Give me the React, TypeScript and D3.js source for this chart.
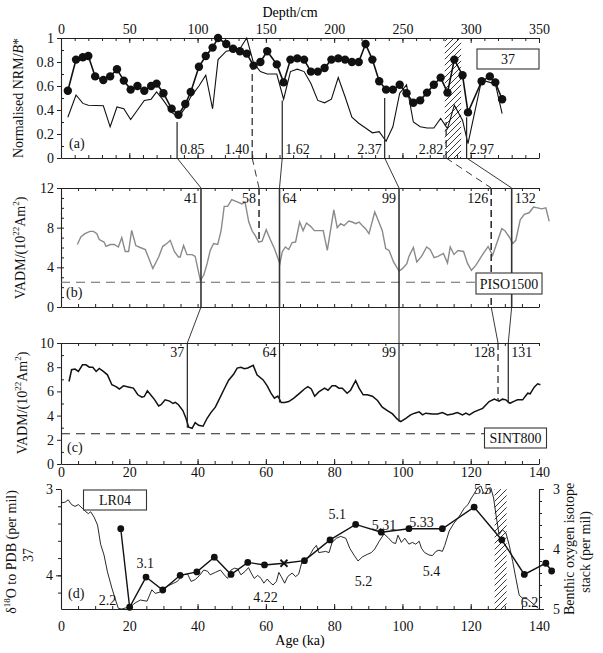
import React, { useEffect, useRef } from "react";
import * as d3 from "d3";

const serif = "Liberation Serif, DejaVu Serif, serif";

// (a) depth in cm vs normalised NRM/B*
const nrmDots: [number, number][] = [
  [5, 0.56], [11, 0.82], [16, 0.84], [20, 0.85], [25, 0.68], [31, 0.65], [36, 0.68], [41, 0.74],
  [46, 0.645], [51, 0.57], [56, 0.6], [61, 0.56], [66, 0.6], [70, 0.62], [75, 0.54], [81, 0.41],
  [86, 0.36], [91, 0.45], [95, 0.55], [101, 0.76], [106, 0.85], [111, 0.92], [115, 1.0], [121, 0.95],
  [126, 0.91], [131, 0.89], [136, 0.87], [141, 0.77], [146, 0.8], [151, 0.89], [158, 0.78], [163, 0.63],
  [168, 0.82], [173, 0.83], [178, 0.82], [183, 0.72], [188, 0.72], [193, 0.75], [198, 0.82], [203, 0.83],
  [208, 0.82], [213, 0.8], [218, 0.8], [223, 0.95], [228, 0.82], [233, 0.64], [238, 0.57], [243, 0.57],
  [248, 0.61], [253, 0.54], [258, 0.46], [263, 0.48], [268, 0.545], [273, 0.61], [278, 0.67], [283, 0.545],
  [288, 0.82], [294, 0.69], [298, 0.38], [308, 0.64], [314, 0.68], [318, 0.63], [323, 0.49],
];
const nrmThin: [number, number][] = [
  [5, 0.34], [11, 0.525], [16, 0.455], [20, 0.44], [31, 0.435], [36, 0.26], [41, 0.425], [46, 0.41],
  [51, 0.32], [56, 0.4], [61, 0.48], [66, 0.49], [70, 0.55], [75, 0.48], [81, 0.38], [86, 0.34],
  [91, 0.42], [95, 0.51], [101, 0.6], [106, 0.69], [111, 0.41], [115, 0.82], [121, 0.89], [126, 0.9],
  [131, 0.91], [136, 1.0], [141, 0.79], [146, 0.72], [151, 0.7], [158, 0.7], [163, 0.49], [168, 0.72],
  [173, 0.74], [178, 0.72], [183, 0.62], [188, 0.48], [193, 0.46], [198, 0.49], [203, 0.67], [208, 0.51],
  [213, 0.34], [218, 0.29], [223, 0.25], [228, 0.21], [233, 0.22], [238, 0.14], [243, 0.26], [248, 0.54],
  [253, 0.61], [258, 0.3], [263, 0.26], [268, 0.25], [273, 0.25], [278, 0.33], [283, 0.245], [288, 0.44],
  [294, 0.315], [298, 0.12], [308, 0.65], [314, 0.63], [318, 0.62], [323, 0.37],
];

// (b) PISO1500 VADM
const piso: [number, number][] = [
  [4.8, 6.3], [5.8, 7.06], [7, 7.4], [8.5, 7.63], [9.5, 7.63], [10.5, 7.4], [11.2, 6.8], [12.6, 6.55],
  [13.2, 6.12], [14.4, 6.3], [15.6, 6.3], [16.8, 6.05], [17.8, 7.0], [18.8, 5.6], [19.8, 5.6], [20.7, 7.73],
  [21.9, 6.2], [23.2, 6.0], [24.7, 5.8], [26.9, 3.87], [28.6, 5.04], [29.8, 6.12], [31, 6.4], [32, 6.72],
  [33.2, 5.6], [34.4, 5.04], [34.9, 5.04], [35.9, 6.2], [36.9, 5.28], [38.4, 5.28], [39.3, 5.1], [40.8, 2.69],
  [41.8, 3.2], [42.8, 4.37], [43.7, 5.7], [44.7, 6.4], [45.9, 6.3], [46.9, 7.73], [47.8, 10.15], [48.8, 10.15],
  [50, 10.83], [51.6, 10.6], [53, 10.4], [53.9, 10.6], [55, 8.57], [56, 7.66], [56.9, 7.2], [57.9, 6.55],
  [58.9, 6.65], [60.1, 7.8], [61.3, 6.8], [62.5, 5.9], [64.1, 4.37], [64.8, 5.55], [65.7, 6.05], [66.7, 5.8],
  [67.7, 6.5], [68.7, 6.55], [69.9, 8.57], [70.9, 7.7], [71.9, 8.47], [73.1, 8.13], [74.2, 7.7], [75.5, 7.7],
  [76.8, 7.7], [78, 5.7], [79.9, 9.8], [80.9, 8.0], [81.9, 8.4], [82.9, 8.2], [84.3, 8.67], [85.3, 8.57],
  [86.3, 8.4], [87.3, 8.57], [88.3, 8.2], [89.2, 7.9], [90.2, 7.4], [91.9, 9.58], [93.1, 8.57], [94.1, 7.7],
  [95.1, 5.9], [96.1, 5.7], [97.4, 4.54], [99, 3.63], [100, 3.87], [101.3, 4.37], [101.9, 5.1], [103.2, 6.0],
  [104.2, 4.54], [105.6, 5.1], [107.1, 6.05], [108.1, 5.8], [109.3, 4.98], [110.4, 5.1], [112, 5.4], [113.2, 4.44],
  [114, 6.05], [115.1, 5.3], [116.3, 5.7], [117.9, 5.6], [119.1, 4.37], [120.2, 3.7], [121.5, 4.2], [123, 5.04],
  [124.1, 5.6], [125.1, 6.1], [126.4, 5.2], [127.4, 6.2], [129.1, 7.9], [130, 7.7], [131.3, 7.06], [132.3, 6.4],
  [133.2, 6.72], [134.5, 8.8], [135.7, 9.35], [137.1, 9.5], [138.4, 10.08], [139.6, 10.0], [140.8, 9.9], [142, 10.0],
  [143, 8.64],
];

// (c) SINT800 VADM
const sint: [number, number][] = [
  [2.35, 6.82], [3.1, 7.79], [4.1, 7.85], [5.1, 7.65], [6.3, 8.2], [7.3, 8.2], [8.3, 8.0], [9.3, 8.0],
  [10.3, 7.65], [11.2, 7.9], [12.4, 7.65], [13.6, 7.37], [14.9, 6.55], [16.1, 6.4], [17.1, 6.2], [18.3, 6.46],
  [20, 6.35], [21.2, 6.27], [22.5, 5.72], [23.7, 5.52], [24.4, 5.58], [25.3, 6.05], [26.6, 5.6], [27.3, 5.36],
  [28.6, 4.8], [29.3, 4.9], [30.5, 5.3], [31.8, 5.2], [32.8, 5.0], [33.5, 5.1], [34.4, 4.9], [35.7, 4.42],
  [36.6, 3.78], [37.4, 3.04], [38.4, 2.95], [39.3, 3.42], [40.3, 3.2], [41.6, 3.12], [42.8, 3.78], [43.9, 4.25],
  [45.2, 4.7], [46.5, 5.44], [47.8, 6.2], [49.1, 6.92], [50.6, 7.43], [51.6, 7.93], [52.7, 8.0], [53.7, 7.87],
  [54.7, 7.93], [56.3, 8.15], [57.4, 7.37], [59.2, 6.95], [60.4, 6.46], [61.5, 5.85], [62.5, 5.44], [63.5, 5.62],
  [64.5, 5.08], [65.5, 5.08], [66.7, 5.16], [68.2, 5.44], [70.1, 5.9], [71.3, 6.2], [72.3, 6.4], [73.3, 6.2],
  [74.3, 5.6], [75.5, 5.96], [77.2, 6.27], [78.2, 6.1], [79.4, 6.46], [80.4, 6.46], [81.4, 6.27], [82.4, 6.27],
  [83.8, 5.85], [84.8, 6.1], [86.3, 6.88], [87.3, 6.27], [88.5, 5.72], [89.7, 5.72], [91.2, 5.6], [92.7, 5.25],
  [94.1, 4.7], [95.6, 4.42], [97.1, 4.14], [98.5, 3.7], [99.5, 3.5], [101, 3.78], [102.4, 4.06], [103.6, 4.2],
  [104.9, 4.31], [105.9, 4.06], [106.8, 4.2], [108.8, 4.14], [110.3, 4.14], [111.7, 4.25], [113.2, 4.06], [114.7, 4.14],
  [116.1, 4.25], [117.6, 4.06], [118.6, 4.2], [119.6, 4.06], [121, 4.31], [123.5, 4.6], [125.4, 5.16], [126.9, 5.36],
  [128.3, 5.2], [129.3, 5.36], [130.3, 5.3], [131.5, 5.02], [132.8, 5.2], [133.7, 5.3], [135.2, 5.3], [136.7, 5.85],
  [137.4, 5.8], [138.6, 6.35], [139.6, 6.63], [140.4, 6.55],
];

// (d) core 37 d18O (left axis) and LR04 stack (right axis)
const d18O37: [number, number][] = [
  [17.5, 3.46], [20.1, 4.37], [24.9, 4.02], [29.8, 4.17], [34.9, 4.0], [39.8, 3.96], [44.9, 3.79], [49.8, 3.99],
  [54.7, 3.85], [59.6, 3.88], [65.3, 3.86], [71.3, 3.83], [78.8, 3.59], [86.3, 3.41], [93.8, 3.5], [101.9, 3.46],
  [111.7, 3.46], [121, 3.21], [129.1, 3.59], [135.7, 3.99], [142, 3.86], [143.7, 3.95],
];
const crossAge = 65.3;
const lr04: [number, number][] = [
  [0, 3.23], [1.2, 3.22], [2.1, 3.18], [3.1, 3.26], [4.1, 3.29], [5.1, 3.26], [6.4, 3.33], [7.3, 3.38],
  [8, 3.41], [8.7, 3.38], [9.7, 3.47], [10.7, 3.6], [11.6, 3.92], [12.6, 4.1], [13.6, 4.38], [14.9, 4.65],
  [15.8, 4.82], [16.8, 4.99], [17.8, 5.0], [19.1, 4.98], [20.4, 4.96], [21.7, 4.9], [23.2, 4.85], [25.2, 4.87],
  [26.6, 4.68], [27.6, 4.74], [28.9, 4.72], [30.2, 4.65], [31.5, 4.61], [33, 4.57], [34.1, 4.54], [35.7, 4.43],
  [37.1, 4.42], [38.1, 4.54], [39.3, 4.51], [40.6, 4.44], [41.8, 4.35], [42.9, 4.37], [43.7, 4.43], [45.2, 4.39],
  [46.7, 4.35], [47.8, 4.43], [48.8, 4.49], [49.8, 4.35], [50.8, 4.32], [51.7, 4.33], [52.7, 4.43], [54, 4.37],
  [54.9, 4.31], [55.7, 4.4], [56.6, 4.49], [57.6, 4.44], [58.6, 4.49], [59.4, 4.57], [60.4, 4.5], [61.1, 4.55],
  [62.1, 4.6], [63.1, 4.54], [63.8, 4.39], [64.5, 4.46], [65.5, 4.57], [66.4, 4.46], [67.7, 4.4], [68.7, 4.46],
  [69.6, 4.42], [70.6, 4.21], [71.6, 4.17], [72.9, 4.1], [73.9, 4.0], [74.8, 3.94], [75.5, 4.06], [77.5, 4.04],
  [78.5, 4.06], [79.4, 3.89], [80.7, 3.82], [81.9, 3.79], [83.4, 3.82], [84.6, 3.99], [85.8, 4.1], [87, 4.2],
  [88.3, 4.13], [89.7, 4.09], [90.9, 4.06], [91.9, 4.0], [93.1, 3.88], [94.6, 3.75], [95.8, 3.81], [97.1, 3.89],
  [98, 3.91], [98.7, 3.77], [99.7, 3.89], [100.7, 3.82], [101.9, 3.92], [102.9, 3.89], [103.9, 3.92], [104.9, 3.87],
  [105.6, 3.99], [106.5, 4.06], [107.8, 4.1], [108.8, 4.11], [109.8, 4.04], [110.7, 4.02], [111.7, 4.04], [112.4, 3.94],
  [113.7, 3.7], [115.1, 3.57], [116.6, 3.46], [118.1, 3.32], [119.2, 3.26], [120.2, 3.15], [121, 3.08], [122, 2.98],
  [123, 2.95], [123.7, 3.06], [124.4, 3.08], [125.1, 2.99], [125.9, 2.98], [126.7, 3.15], [127.4, 3.43], [128.3, 3.76],
  [129.3, 3.68], [130.3, 3.73], [131.3, 3.94], [132.3, 4.21], [133.2, 4.48], [134.2, 4.77], [135.2, 4.82], [136.5, 4.83],
  [137.6, 4.88], [138.6, 4.93], [139.8, 4.99],
];
const stageLabels = ["2.2", "3.1", "4.22", "5.1", "5.2", "5.31", "5.33", "5.4", "5.5", "6.2"];
const stageAt: [number, number][] = [
  [13.6, 4.93], [24.7, 4.31], [59.9, 4.88], [80.9, 3.5], [88.6, 4.62], [94.6, 3.68], [105.6, 3.63], [108.5, 4.45],
  [123.5, 3.08], [137.2, 4.97],
];

// tie points: depth (m) -> PISO1500 age -> SINT800 age
const depthTies = [0.85, 1.4, 1.62, 2.37, 2.82, 2.97];
const depthTieTop = [0.3, 0.76, 0.48, 0.5, 0.3, 0.34];
const pisoTies = [41, 58, 64, 99, 126, 132];
const pisoTieLow = [0, 6.55, 0, 0, 0, 0];
const sintTies = [37, 64, 99, 128, 131];
const sintTieLow = [3.0, 5.08, 3.5, 5.2, 5.02];
const pisoToSint = [
  [41, 37], [64, 64], [99, 99], [126, 128], [132, 131],
];
const hatchDepth = [281, 293];
const hatchAge = [127, 130.5];

const left = 61;
const right = 539;

const App = () => {
  const ref = useRef<SVGSVGElement>(null);
  useEffect(() => {
    const svg = d3.select(ref.current);
    svg.selectAll("*").remove();

    const xDepth = d3.scaleLinear().domain([0, 350]).range([left, right]);
    const xAge = d3.scaleLinear().domain([0, 140]).range([left, right]);
    const yA = d3.scaleLinear().domain([0, 1]).range([158, 38]);
    const yB = d3.scaleLinear().domain([0, 12]).range([307, 188]);
    const yC = d3.scaleLinear().domain([0, 10]).range([464, 343]);
    const yDL = d3.scaleLinear().domain([3, 4.39]).range([489, 609]);
    const yDR = d3.scaleLinear().domain([3, 5]).range([489, 609]);

    const defs = svg.append("defs");
    const pat = defs
      .append("pattern")
      .attr("id", "hatch")
      .attr("patternUnits", "userSpaceOnUse")
      .attr("width", 6)
      .attr("height", 6);
    pat
      .append("path")
      .attr("d", "M0,6 L6,0 M-1,1 L1,-1 M5,7 L7,5")
      .attr("stroke", "#222")
      .attr("stroke-width", 0.9);

    const addAxis = (transform: string, axis: any, keepDomain = true) => {
      const g = svg.append("g").attr("transform", transform).call(axis);
      g.attr("font-family", serif).attr("font-size", 14);
      g.select(".domain").attr("stroke", "#222").attr("stroke-width", 1.1);
      if (!keepDomain) g.select(".domain").remove();
      g.selectAll(".tick line").attr("stroke", "#222");
      g.selectAll(".tick text").attr("fill", "#111").style("font-family", serif);
      return g;
    };
    const none = () => "";
    const fmt = d3.format("~g");

    // hatched intervals
    svg
      .append("rect")
      .attr("x", xDepth(hatchDepth[0]))
      .attr("y", yA(1))
      .attr("width", xDepth(hatchDepth[1]) - xDepth(hatchDepth[0]))
      .attr("height", yA(0) - yA(1))
      .attr("fill", "url(#hatch)");
    svg
      .append("rect")
      .attr("x", xAge(hatchAge[0]))
      .attr("y", yDR(3))
      .attr("width", xAge(hatchAge[1]) - xAge(hatchAge[0]))
      .attr("height", yDR(5) - yDR(3))
      .attr("fill", "url(#hatch)");

    // ---- axes (a)
    addAxis(`translate(0,${yA(1)})`, d3.axisTop(xDepth).tickValues(d3.range(0, 351, 50)).tickSize(-5).tickSizeOuter(0).tickPadding(4));
    addAxis(`translate(0,${yA(1)})`, d3.axisTop(xDepth).tickValues(d3.range(0, 351, 10)).tickSize(-3).tickFormat(none), false);
    addAxis(`translate(0,${yA(0)})`, d3.axisBottom(xDepth).tickValues(d3.range(0, 351, 50)).tickSize(-5).tickSizeOuter(0).tickFormat(none));
    addAxis(`translate(0,${yA(0)})`, d3.axisBottom(xDepth).tickValues(d3.range(0, 351, 10)).tickSize(-3).tickFormat(none), false);
    addAxis(`translate(${left},0)`, d3.axisLeft(yA).tickValues([0, 0.2, 0.4, 0.6, 0.8, 1]).tickSize(4).tickSizeOuter(0).tickPadding(3).tickFormat(fmt));
    addAxis(`translate(${left},0)`, d3.axisLeft(yA).tickValues(d3.range(0.1, 1, 0.2)).tickSize(-3).tickFormat(none), false);

    // ---- axes (b)
    addAxis(`translate(0,${yB(12)})`, d3.axisTop(xAge).tickValues(d3.range(0, 141, 5)).tickSize(-3).tickSizeOuter(0).tickFormat(none));
    addAxis(`translate(0,${yB(0)})`, d3.axisBottom(xAge).tickValues(d3.range(0, 141, 5)).tickSize(-3).tickSizeOuter(0).tickFormat(none));
    addAxis(`translate(${left},0)`, d3.axisLeft(yB).tickValues([0, 4, 8, 12]).tickSize(4).tickSizeOuter(0).tickPadding(3).tickFormat(fmt));
    addAxis(`translate(${left},0)`, d3.axisLeft(yB).tickValues(d3.range(1, 12, 1)).tickSize(-3).tickFormat(none), false);

    // ---- axes (c)
    addAxis(`translate(0,${yC(10)})`, d3.axisTop(xAge).tickValues(d3.range(0, 141, 5)).tickSize(-3).tickSizeOuter(0).tickFormat(none));
    addAxis(`translate(0,${yC(0)})`, d3.axisBottom(xAge).tickValues(d3.range(0, 141, 20)).tickSize(-5).tickSizeOuter(0).tickPadding(3).tickFormat(fmt));
    addAxis(`translate(0,${yC(0)})`, d3.axisBottom(xAge).tickValues(d3.range(0, 141, 5)).tickSize(-3).tickFormat(none), false);
    addAxis(`translate(${left},0)`, d3.axisLeft(yC).tickValues(d3.range(0, 11, 2)).tickSize(4).tickSizeOuter(0).tickPadding(3).tickFormat(fmt));
    addAxis(`translate(${left},0)`, d3.axisLeft(yC).tickValues(d3.range(1, 10, 2)).tickSize(-3).tickFormat(none), false);

    // ---- axes (d)
    addAxis(`translate(0,${yDR(5)})`, d3.axisBottom(xAge).tickValues(d3.range(0, 141, 20)).tickSize(-5).tickSizeOuter(0).tickPadding(12).tickFormat(fmt));
    addAxis(`translate(0,${yDR(5)})`, d3.axisBottom(xAge).tickValues(d3.range(0, 141, 5)).tickSize(-3).tickFormat(none), false);
    addAxis(`translate(${left},0)`, d3.axisLeft(yDL).tickValues([3, 4]).tickSize(5).tickSizeOuter(0).tickPadding(3).tickFormat(fmt));
    addAxis(`translate(${left},0)`, d3.axisLeft(yDL).tickValues(d3.range(3.2, 4.39, 0.2)).tickSize(3).tickFormat(none), false);
    addAxis(`translate(${right},0)`, d3.axisRight(yDR).tickValues([3, 4, 5]).tickSize(5).tickSizeOuter(0).tickPadding(9).tickFormat(fmt));
    addAxis(`translate(${right},0)`, d3.axisRight(yDR).tickValues(d3.range(3.2, 4.99, 0.2)).tickSize(3).tickFormat(none), false);

    // ---- reference dashed lines at 2.5
    svg
      .append("line")
      .attr("x1", left)
      .attr("x2", 475)
      .attr("y1", yB(2.5))
      .attr("y2", yB(2.5))
      .attr("stroke", "#666")
      .attr("stroke-width", 1.1)
      .attr("stroke-dasharray", "9,6");
    svg
      .append("line")
      .attr("x1", left)
      .attr("x2", 484)
      .attr("y1", yC(2.5))
      .attr("y2", yC(2.5))
      .attr("stroke", "#222")
      .attr("stroke-width", 1.1)
      .attr("stroke-dasharray", "9,6");

    // ---- curves
    const lineA = d3.line<[number, number]>().x((d) => xDepth(d[0])).y((d) => yA(d[1]));
    svg.append("path").attr("d", lineA(nrmThin)).attr("fill", "none").attr("stroke", "#111").attr("stroke-width", 1.1);
    svg.append("path").attr("d", lineA(nrmDots)).attr("fill", "none").attr("stroke", "#111").attr("stroke-width", 1.6);
    svg
      .selectAll("circle.nrm")
      .data(nrmDots)
      .enter()
      .append("circle")
      .attr("class", "nrm")
      .attr("cx", (d) => xDepth(d[0]))
      .attr("cy", (d) => yA(d[1]))
      .attr("r", 4.2)
      .attr("fill", "#111");

    const lineB = d3.line<[number, number]>().x((d) => xAge(d[0])).y((d) => yB(d[1]));
    svg.append("path").attr("d", lineB(piso)).attr("fill", "none").attr("stroke", "#8a8a8a").attr("stroke-width", 1.4);

    const lineC = d3.line<[number, number]>().x((d) => xAge(d[0])).y((d) => yC(d[1]));
    svg.append("path").attr("d", lineC(sint)).attr("fill", "none").attr("stroke", "#111").attr("stroke-width", 1.5);

    const lineDR = d3.line<[number, number]>().x((d) => xAge(d[0])).y((d) => yDR(d[1]));
    svg.append("path").attr("d", lineDR(lr04)).attr("fill", "none").attr("stroke", "#111").attr("stroke-width", 0.9);
    const lineDL = d3.line<[number, number]>().x((d) => xAge(d[0])).y((d) => yDL(d[1]));
    svg.append("path").attr("d", lineDL(d18O37)).attr("fill", "none").attr("stroke", "#111").attr("stroke-width", 1.4);
    svg
      .selectAll("circle.iso")
      .data(d18O37.filter((d) => d[0] !== crossAge))
      .enter()
      .append("circle")
      .attr("class", "iso")
      .attr("cx", (d) => xAge(d[0]))
      .attr("cy", (d) => yDL(d[1]))
      .attr("r", 3.4)
      .attr("fill", "#111");
    d18O37
      .filter((d) => d[0] === crossAge)
      .forEach((d) => {
        const cx = xAge(d[0]);
        const cy = yDL(d[1]);
        svg
          .append("path")
          .attr("d", `M${cx - 3.5},${cy - 3.5}L${cx + 3.5},${cy + 3.5}M${cx - 3.5},${cy + 3.5}L${cx + 3.5},${cy - 3.5}`)
          .attr("stroke", "#111")
          .attr("stroke-width", 1.8);
      });

    // ---- tie lines
    const dashedA = [1, 4];
    const tieLabel = (x: number, y: number, text: string, rightSide: boolean) =>
      svg
        .append("text")
        .attr("x", rightSide ? x + 3 : x - 3)
        .attr("y", y)
        .attr("text-anchor", rightSide ? "start" : "end")
        .attr("font-size", 14)
        .attr("fill", "#111")
        .text(text);

    depthTies.forEach((m, i) => {
      const x = xDepth(m * 100);
      svg
        .append("line")
        .attr("x1", x)
        .attr("x2", x)
        .attr("y1", yA(0))
        .attr("y2", yA(depthTieTop[i]))
        .attr("stroke", "#222")
        .attr("stroke-width", 1.2)
        .attr("stroke-dasharray", dashedA.includes(i) ? "7,4" : null);
      tieLabel(x, 154, m.toFixed(2), [0, 2, 5].includes(i));
      svg
        .append("line")
        .attr("x1", x)
        .attr("y1", yA(0))
        .attr("x2", xAge(pisoTies[i]))
        .attr("y2", yB(12))
        .attr("stroke", "#222")
        .attr("stroke-width", 0.9)
        .attr("stroke-dasharray", dashedA.includes(i) ? "7,5" : null);
    });

    pisoTies.forEach((a, i) => {
      const x = xAge(a);
      svg
        .append("line")
        .attr("x1", x)
        .attr("x2", x)
        .attr("y1", yB(12))
        .attr("y2", yB(pisoTieLow[i]))
        .attr("stroke", "#333")
        .attr("stroke-width", 1.6)
        .attr("stroke-dasharray", dashedA.includes(i) ? "7,4" : null);
      tieLabel(x, 203, String(a), [2, 5].includes(i));
    });

    sintTies.forEach((a, i) => {
      const x = xAge(a);
      svg
        .append("line")
        .attr("x1", x)
        .attr("x2", x)
        .attr("y1", yC(10))
        .attr("y2", yC(sintTieLow[i]))
        .attr("stroke", "#222")
        .attr("stroke-width", 1.2)
        .attr("stroke-dasharray", i === 3 ? "7,4" : null);
      tieLabel(x, 357, String(a), i === 4);
    });

    pisoToSint.forEach(([p, s]) => {
      svg
        .append("line")
        .attr("x1", xAge(p))
        .attr("y1", yB(0))
        .attr("x2", xAge(s))
        .attr("y2", yC(10))
        .attr("stroke", "#222")
        .attr("stroke-width", 0.9);
    });

    // ---- stage labels (d)
    stageLabels.forEach((t, i) => {
      svg
        .append("text")
        .attr("x", xAge(stageAt[i][0]))
        .attr("y", yDR(stageAt[i][1]))
        .attr("text-anchor", "middle")
        .attr("font-size", 14)
        .attr("fill", "#111")
        .text(t);
    });

    // ---- boxed legends
    const box = (x: number, y: number, w: number, h: number, text: string) => {
      svg
        .append("rect")
        .attr("x", x)
        .attr("y", y)
        .attr("width", w)
        .attr("height", h)
        .attr("fill", "#fff")
        .attr("stroke", "#333")
        .attr("stroke-width", 1.1);
      svg
        .append("text")
        .attr("x", x + w / 2)
        .attr("y", y + h / 2 + 5)
        .attr("text-anchor", "middle")
        .attr("font-size", 14)
        .attr("fill", "#111")
        .text(text);
    };
    box(477, 49, 62, 20, "37");
    box(476, 273, 66, 21, "PISO1500");
    box(484.5, 428, 62, 20, "SINT800");
    box(83.5, 490, 63, 20, "LR04");

    // ---- panel letters
    [["(a)", 69, 148], ["(b)", 66, 297], ["(c)", 67, 452], ["(d)", 68, 598]].forEach(([t, x, y]) => {
      svg.append("text").attr("x", x).attr("y", y).attr("font-size", 14).attr("fill", "#111").text(t as string);
    });

    // ---- axis titles
    svg.append("text").attr("x", 290).attr("y", 17).attr("text-anchor", "middle").attr("font-size", 14).text("Depth/cm");
    svg.append("text").attr("x", 300).attr("y", 645).attr("text-anchor", "middle").attr("font-size", 14).text("Age (ka)");

    const vTitle = (x: number, y: number, parts: [string, string][]) => {
      const t = svg
        .append("text")
        .attr("transform", `translate(${x},${y}) rotate(-90)`)
        .attr("text-anchor", "middle")
        .attr("font-size", 14)
        .attr("fill", "#111");
      let shifted = false;
      parts.forEach(([s, kind]) => {
        const ts = t.append("tspan").text(s);
        if (kind === "sup") {
          ts.attr("font-size", 9).attr("dy", -6);
          shifted = true;
        } else {
          if (shifted) ts.attr("dy", 6);
          shifted = false;
          if (kind === "it") ts.attr("font-style", "italic");
        }
      });
    };
    vTitle(23, 98, [["Normalised NRM/", ""], ["B", "it"], ["*", ""]]);
    const vadm: [string, string][] = [["VADM/(10", ""], ["22", "sup"], ["Am", ""], ["2", "sup"], [")", ""]];
    vTitle(25, 248, vadm);
    vTitle(27, 403, vadm);
    vTitle(16, 552, [["δ", ""], ["18", "sup"], ["O to PDB (per mil)", ""]]);
    vTitle(33, 555, [["37", ""]]);
    vTitle(574, 549, [["Benthic oxygen isotope", ""]]);
    vTitle(590, 552, [["stack (per mil)", ""]]);
  }, []);
  return (
    <svg
      ref={ref}
      width={603}
      height={653}
      style={{ position: "absolute", left: 0, top: 0, background: "#fff", fontFamily: serif }}
    />
  );
};

export default App;
